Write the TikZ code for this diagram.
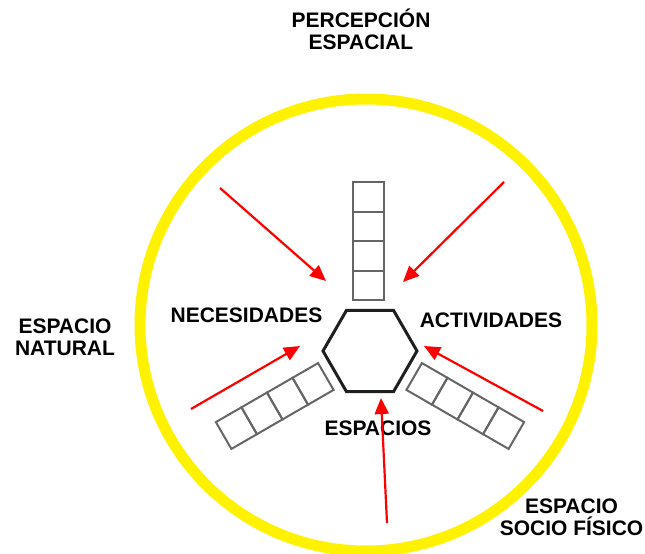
\documentclass[tikz,border=0pt]{standalone}
\usepackage{fontspec}
\setmainfont{Liberation Sans}
\usetikzlibrary{arrows.meta}
\begin{document}
\begin{tikzpicture}[x=1pt,y=-1pt,
  lbl/.style={font=\bfseries\fontsize{21}{22}\selectfont, inner sep=0pt, anchor=base, align=center},
  redarrow/.style={draw=red, line width=2.2pt, -{Triangle[length=16pt,width=14pt]}},
  cell/.style={draw=black!60, line width=2pt},
  ring/.style={draw=yellow, line width=11pt},
  hexline/.style={draw=black!88, line width=3pt, line join=miter}]
\useasboundingbox (0,0) rectangle (645,554);
% yellow ring
\draw[ring] (366,325) circle[radius=226];
% ladders
\begin{scope}[shift={(368,351)}]
  \foreach \k in {0,...,3} \draw[cell] (-15.5,{-51-29.5*\k}) rectangle (15.5,{-80.5-29.5*\k});
\end{scope}
\begin{scope}[shift={(370,351)}, rotate=120]
  \foreach \k in {0,...,3} \draw[cell] (-15.5,{-51-29.5*\k}) rectangle (15.5,{-80.5-29.5*\k});
\end{scope}
\begin{scope}[shift={(370,351)}, rotate=-120]
  \foreach \k in {0,...,3} \draw[cell] (-15.5,{-51-29.5*\k}) rectangle (15.5,{-80.5-29.5*\k});
\end{scope}
% hexagon
\coordinate (hex) at (370,351);
\draw[hexline, shift={(370,351)}] (0:47) -- (60:47) -- (120:47) -- (180:47) -- (240:47) -- (300:47) -- cycle;
% labels
\node[lbl] (title) at (361,49) {PERCEPCIÓN\\ESPACIAL};
\node[lbl] (natural) at (65,355) {ESPACIO\\NATURAL};
\node[lbl] (socio) at (571.5,535) {ESPACIO\\SOCIO FÍSICO};
\node[lbl] (nec) at (246.5,322) {NECESIDADES};
\node[lbl] (act) at (491,327) {ACTIVIDADES};
\node[lbl] (esp) at (378,435) {ESPACIOS};
% arrows
\coordinate (a1s) at (220,188); \coordinate (a1e) at (326,281);
\coordinate (a2s) at (504,182); \coordinate (a2e) at (403,282);
\coordinate (a3s) at (191,409); \coordinate (a3e) at (300,346);
\coordinate (a4s) at (543,411); \coordinate (a4e) at (424,346);
\coordinate (a5s) at (387,523); \coordinate (a5e) at (381,398);
\draw[redarrow] (a1s) -- (a1e);
\draw[redarrow] (a2s) -- (a2e);
\draw[redarrow] (a3s) -- (a3e);
\draw[redarrow] (a4s) -- (a4e);
\draw[redarrow] (a5s) -- (a5e);
\end{tikzpicture}
\end{document}
